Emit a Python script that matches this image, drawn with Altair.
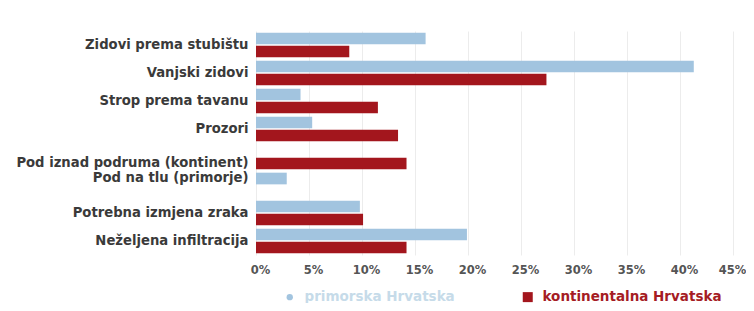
import altair as alt
import pandas as pd

categories = [
    "Zidovi prema stubištu",
    "Vanjski zidovi",
    "Strop prema tavanu",
    "Prozori",
    "Pod iznad podruma (kontinent)",
    "Pod na tlu (primorje)",
    "Potrebna izmjena zraka",
    "Neželjena infiltracija",
]
series = ["primorska Hrvatska", "kontinentalna Hrvatska"]
primorska = [16.0, 41.3, 4.2, 5.3, None, 2.9, 9.8, 19.9]
kontinentalna = [8.8, 27.4, 11.5, 13.4, 14.2, None, 10.1, 14.2]
x_ticks = [0, 5, 10, 15, 20, 25, 30, 35, 40, 45]

BLUE = "#a2c4df"
RED = "#a3161d"

rows = []
for c, p, k in zip(categories, primorska, kontinentalna):
    if p is not None:
        rows.append({"kategorija": c, "serija": series[0], "vrijednost": p})
    if k is not None:
        rows.append({"kategorija": c, "serija": series[1], "vrijednost": k})
df = pd.DataFrame(rows)

FONT = "DejaVu Sans"

chart = alt.Chart(df).mark_bar().encode(
    y=alt.Y(
        "kategorija:N",
        sort=categories,
        title=None,
        scale=alt.Scale(paddingInner=0.12, paddingOuter=0.06),
        axis=alt.Axis(
            domain=False,
            ticks=False,
            labelPadding=8,
            labelFont=FONT,
            labelFontSize=13.2,
            labelFontWeight="bold",
            labelColor="#3a3a3a",
            labelLimit=300,
            labelOffset={
                "condition": [
                    {"test": "datum.value == 'Pod iznad podruma (kontinent)'", "value": 6},
                    {"test": "datum.value == 'Pod na tlu (primorje)'", "value": -7},
                ],
                "value": 0,
            },
        ),
    ),
    yOffset=alt.YOffset("serija:N", sort=series, scale=alt.Scale(domain=series, paddingInner=0.1)),
    x=alt.X(
        "vrijednost:Q",
        title=None,
        scale=alt.Scale(domain=[0, 45], nice=False),
        axis=alt.Axis(
            values=x_ticks,
            labelExpr="datum.value + '%'",
            grid=True,
            gridColor="#ececec",
            domain=False,
            ticks=False,
            labelPadding=9,
            labelFont=FONT,
            labelFontSize=11.5,
            labelFontWeight="bold",
            labelColor="#555555",
            labelOffset={
                "condition": {"test": "datum.value == 45", "value": -1},
                "value": 4,
            },
            labelFlush=False,
            labelOverlap=False,
        ),
    ),
    color=alt.Color(
        "serija:N",
        sort=series,
        scale=alt.Scale(domain=series, range=[BLUE, RED]),
        legend=alt.Legend(
            title=None,
            orient="none",
            legendX=27,
            legendY=259,
            direction="horizontal",
            labelFont=FONT,
            labelFontSize=13.5,
            labelFontWeight="bold",
            labelLimit=300,
            labelColor=alt.ExprRef("datum.label == 'kontinentalna Hrvatska' ? '#a51c24' : '#c6dbe9'"),
            symbolType=alt.ExprRef("datum.label == 'kontinentalna Hrvatska' ? 'square' : 'circle'"),
            symbolSize=alt.ExprRef("datum.label == 'kontinentalna Hrvatska' ? 100 : 40"),
            symbolStrokeWidth=0,
            labelOffset=8,
            columnPadding=66,
        ),
    ),
).properties(
    width=477,
    height=224,
    autosize=alt.AutoSizeParams(type="none"),
    padding={"left": 248, "top": 23, "right": 13, "bottom": 48},
).configure_view(stroke=None)

chart.save("out.html", embed_options={"renderer": "svg", "actions": False})
